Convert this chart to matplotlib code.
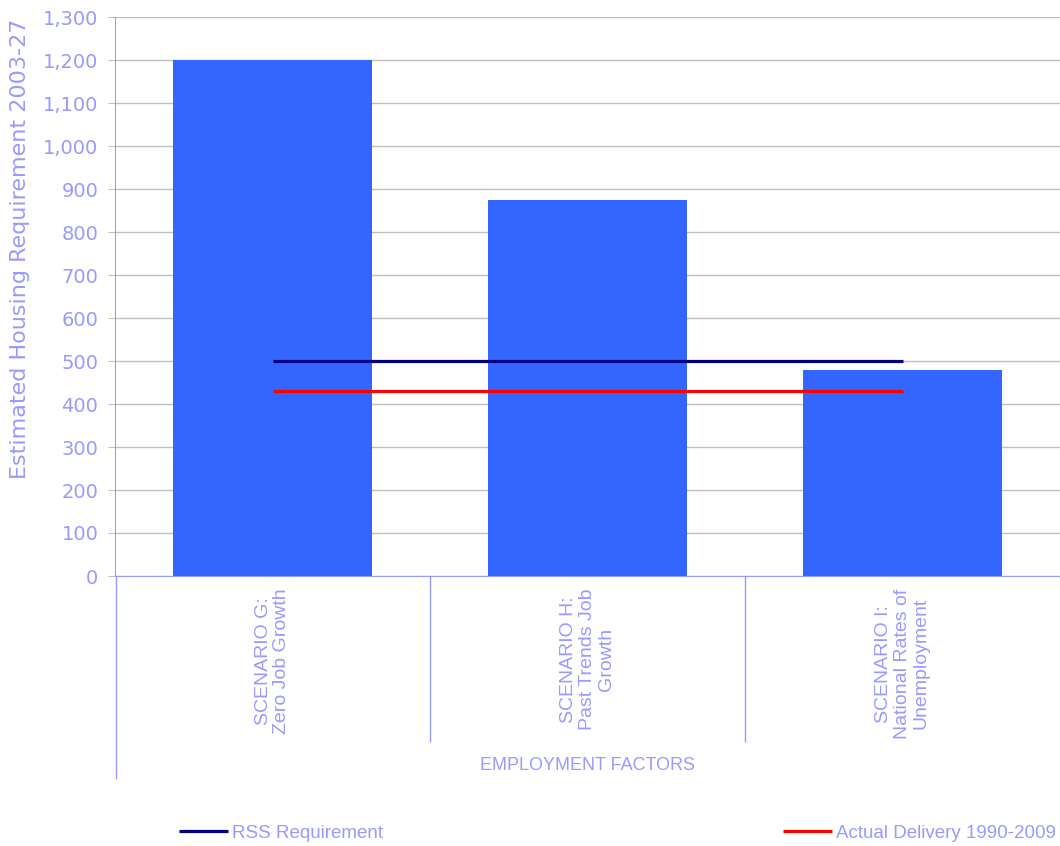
import matplotlib
matplotlib.use("Agg")
import matplotlib.pyplot as plt
from matplotlib.lines import Line2D
from matplotlib.ticker import FuncFormatter, FixedLocator

categories = ["SCENARIO G:\nZero Job Growth",
              "SCENARIO H:\nPast Trends Job\nGrowth",
              "SCENARIO I:\nNational Rates of\nUnemployment"]
requirement = [1200, 875, 478]
rss_requirement = [500, 500, 500]
actual_delivery = [430, 430, 430]
y_ticks = list(range(0, 1301, 100))

TXT = "#9999FF"
BAR = "#3366FF"
GRID = "#C0C0C0"
plt.rcParams["font.family"] = ["Liberation Sans", "DejaVu Sans"]
WIDE = ["DejaVu Sans"]

W, H = 1060, 846
fig = plt.figure(figsize=(W / 100, H / 100), dpi=100)
ax = fig.add_axes([115 / W, 1 - 576 / H, 945 / W, 559 / H])

x = list(range(len(categories)))
ax.bar(x, requirement, width=0.632, color=BAR, zorder=2)
l1, = ax.plot(x, rss_requirement, color="#000080", lw=2.3, zorder=3,
              solid_capstyle="butt")
l2, = ax.plot(x, actual_delivery, color="#FF0000", lw=2.3, zorder=3,
              solid_capstyle="butt")

ax.set_xlim(-0.5, len(categories) - 0.5)
ax.set_ylim(0, 1300)
ax.yaxis.set_major_locator(FixedLocator(y_ticks))
ax.yaxis.set_major_formatter(FuncFormatter(lambda v, p: f"{int(v):,}"))
ax.grid(axis="y", color=GRID, lw=1, zorder=0)
ax.tick_params(axis="y", colors=GRID, labelcolor=TXT, labelsize=14,
               length=5, direction="out", pad=7)
for t in ax.get_yticklabels():
    t.set_family(WIDE)

ax.set_xticks(x)
ax.set_xticklabels(categories)
ax.tick_params(axis="x", length=0, pad=9)
for t in ax.get_xticklabels():
    t.set_rotation(90)
    t.set_va("top")
    t.set_ha("center")
    t.set_multialignment("center")
    t.set_color(TXT)
    t.set_fontsize(14)
    t.set_linespacing(1.15)
ax.set_xticks([0.5, 1.5], minor=True)
ax.tick_params(axis="x", which="minor", length=166 * 0.72, color=TXT,
               width=1, direction="out")

for s in ("top", "right"):
    ax.spines[s].set_visible(False)
ax.spines["left"].set_color(TXT)
ax.spines["bottom"].set_color(TXT)

# left axis line extends down past the category labels
fig.add_artist(Line2D([115.5 / W, 115.5 / W], [1 - 576 / H, 1 - 778 / H],
                      color=TXT, lw=1))

fig.text(20 / W, 1 - 249 / H, "Estimated Housing Requirement 2003-27",
         rotation=90, ha="center", va="center", color=TXT, fontsize=16,
         family=WIDE)
fig.text(588 / W, 1 - 765 / H, "EMPLOYMENT FACTORS", ha="center",
         va="center", color=TXT, fontsize=13)

fig.legend([l1], ["RSS Requirement"], loc="center left",
           bbox_to_anchor=(162 / W, 1 - 833 / H), frameon=False,
           handlelength=2.6, handletextpad=0.25,
           prop={"size": 13.5}, labelcolor=TXT)
fig.legend([l2], ["Actual Delivery 1990-2009"], loc="center left",
           bbox_to_anchor=(766 / W, 1 - 833 / H), frameon=False,
           handlelength=2.6, handletextpad=0.25,
           prop={"size": 13.5}, labelcolor=TXT)

fig.savefig("out.png", dpi=100)
